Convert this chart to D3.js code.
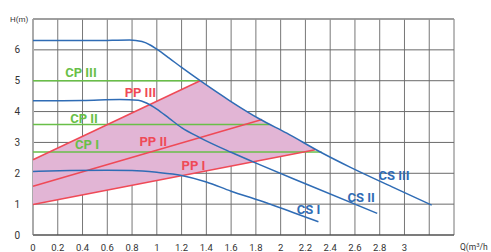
<!DOCTYPE html>
<html>
<head>
<meta charset="utf-8">
<script src="https://cdn.jsdelivr.net/npm/d3@7"></script>
<style>
  body { margin: 0; background: #fff; }
  text { font-family: Roboto, "DejaVu Sans", sans-serif; }
</style>
</head>
<body>
<div id="chart"></div>
<script>
// pump curves, flow Q (m3/h) against head H (m)
var csI = [[0, 2.06], [0.3, 2.09], [0.6, 2.1], [0.8, 2.09], [1.0, 2.03], [1.2, 1.93], [1.4, 1.72], [1.6, 1.42], [1.83, 1.12], [2.1, 0.73], [2.305, 0.43]];
var csII = [[0, 4.35], [0.4, 4.36], [0.7, 4.39], [0.85, 4.37], [0.92, 4.27], [1.0, 4.08], [1.1, 3.78], [1.2, 3.48], [1.35, 3.15], [1.6, 2.68], [1.83, 2.28], [2.2, 1.66], [2.78, 0.70]];
var csIII = [[0, 6.3], [0.5, 6.3], [0.78, 6.32], [0.88, 6.27], [0.95, 6.15], [1.0, 6.02], [1.1, 5.73], [1.2, 5.43], [1.35, 5.0], [1.59, 4.35], [1.83, 3.76], [2.05, 3.3], [2.32, 2.69], [2.56, 2.2], [2.9, 1.56], [3.22, 0.97]];

// proportional pressure lines
var ppI = [[0, 0.99], [2.28, 2.76]];
var ppII = [[0, 1.58], [1.85, 3.74]];
var ppIII = [[0, 2.44], [1.35, 5.0]];

// constant pressure lines
var cpI = [[0, 2.69], [2.33, 2.69]];
var cpII = [[0, 3.58], [1.91, 3.58]];
var cpIII = [[0, 5.0], [1.35, 5.0]];

// curve names and where their labels sit (Q, H)
var labelNames = ["CP III", "PP III", "CP II", "CP I", "PP II", "PP I", "CS I", "CS II", "CS III"];
var labelAt = [[0.26, 5.12], [0.74, 4.47], [0.3, 3.63], [0.34, 2.79], [0.86, 2.88], [1.2, 2.11], [2.13, 0.68], [2.54, 1.07], [2.79, 1.78]];
var labelKind = ["cp", "pp", "cp", "cp", "pp", "pp", "cs", "cs", "cs"];

var xTicks = d3.range(0, 3.01, 0.2);
var yTicks = [0, 1, 2, 3, 4, 5, 6];

var W = 491, H = 252;
var margin = {top: 19, right: 37, bottom: 17, left: 33};

var colors = {cs: "#2f6cb5", pp: "#ef4a57", cp: "#69bf48"};

var svg = d3.select("#chart").append("svg")
    .attr("width", W)
    .attr("height", H);

var x = d3.scaleLinear().domain([0, 3.4]).range([margin.left, W - margin.right]);
var y = d3.scaleLinear().domain([0, 7]).range([H - margin.bottom, margin.top]);

// grid
svg.append("g").selectAll("line")
    .data(d3.range(0, 3.41, 0.2))
    .enter().append("line")
    .attr("x1", function(d) { return x(d); })
    .attr("x2", function(d) { return x(d); })
    .attr("y1", y(0))
    .attr("y2", y(7))
    .attr("stroke", "#777")
    .attr("stroke-width", 1);

svg.append("g").selectAll("line")
    .data(d3.range(0, 8))
    .enter().append("line")
    .attr("x1", x(0))
    .attr("x2", x(3.4))
    .attr("y1", function(d) { return y(d); })
    .attr("y2", function(d) { return y(d); })
    .attr("stroke", "#6a6a6a")
    .attr("stroke-width", 1);

// frame
svg.append("line").attr("x1", x(0)).attr("x2", x(0)).attr("y1", y(0)).attr("y2", y(7))
    .attr("stroke", "#aaa").attr("stroke-width", 2);
svg.append("line").attr("x1", x(0)).attr("x2", x(3.4)).attr("y1", y(7)).attr("y2", y(7))
    .attr("stroke", "#999").attr("stroke-width", 1.5);
svg.append("line").attr("x1", x(0)).attr("x2", x(3.4)).attr("y1", y(0)).attr("y2", y(0))
    .attr("stroke", "#444").attr("stroke-width", 1.2);

var line = d3.line()
    .x(function(d) { return x(d[0]); })
    .y(function(d) { return y(d[1]); });

var smooth = d3.line()
    .x(function(d) { return x(d[0]); })
    .y(function(d) { return y(d[1]); })
    .curve(d3.curveMonotoneX);

// working area: between PP I and PP III, under CS III
var under = d3.area()
    .x(function(d) { return x(d[0]); })
    .y0(y(0))
    .y1(function(d) { return y(d[1]); })
    .curve(d3.curveMonotoneX);

svg.append("clipPath").attr("id", "underCS")
    .append("path").attr("d", under(csIII));

var slopeI = (ppI[1][1] - ppI[0][1]) / (ppI[1][0] - ppI[0][0]);
var slopeIII = (ppIII[1][1] - ppIII[0][1]) / (ppIII[1][0] - ppIII[0][0]);
var band = [[0, ppI[0][1]], [3.4, ppI[0][1] + slopeI * 3.4], [3.4, ppIII[0][1] + slopeIII * 3.4], [0, ppIII[0][1]]];

svg.append("path")
    .attr("d", line(band) + "Z")
    .attr("fill", "#e2b5d5")
    .attr("clip-path", "url(#underCS)");

// constant pressure
[cpI, cpII, cpIII].forEach(function(s) {
  svg.append("path").attr("d", line(s))
      .attr("fill", "none").attr("stroke", colors.cp).attr("stroke-width", 1.6);
});

// proportional pressure
[ppI, ppII, ppIII].forEach(function(s) {
  svg.append("path").attr("d", line(s))
      .attr("fill", "none").attr("stroke", colors.pp).attr("stroke-width", 1.5);
});

// pump curves
[csI, csII, csIII].forEach(function(s) {
  svg.append("path").attr("d", smooth(s))
      .attr("fill", "none").attr("stroke", colors.cs).attr("stroke-width", 1.5);
});

// curve labels
svg.append("g").selectAll("text")
    .data(labelNames)
    .enter().append("text")
    .attr("x", function(d, i) { return x(labelAt[i][0]); })
    .attr("y", function(d, i) { return y(labelAt[i][1]); })
    .attr("fill", function(d, i) { return colors[labelKind[i]]; })
    .attr("font-size", "13px")
    .attr("font-weight", "bold")
    .text(function(d) { return d; });

// tick labels
svg.append("g").selectAll("text")
    .data(yTicks)
    .enter().append("text")
    .attr("x", 20)
    .attr("y", function(d) { return y(d); })
    .attr("dy", "0.35em")
    .attr("text-anchor", "end")
    .attr("font-size", "10px")
    .attr("fill", "#333")
    .text(function(d) { return d; });

svg.append("g").selectAll("text")
    .data(xTicks)
    .enter().append("text")
    .attr("x", function(d) { return x(d); })
    .attr("y", 251)
    .attr("text-anchor", "middle")
    .attr("font-size", "9.5px")
    .attr("fill", "#333")
    .text(function(d) { return +d.toFixed(1); });

svg.append("text")
    .attr("x", 10).attr("y", 22)
    .attr("font-size", "8px").attr("fill", "#333")
    .text("H(m)");

var q = svg.append("text")
    .attr("x", 460).attr("y", 250)
    .attr("font-size", "8.5px").attr("fill", "#333");
q.append("tspan").text("Q(m");
q.append("tspan").attr("dy", -3).attr("font-size", "6px").text("3");
q.append("tspan").attr("dy", 3).text("/h");
</script>
</body>
</html>
